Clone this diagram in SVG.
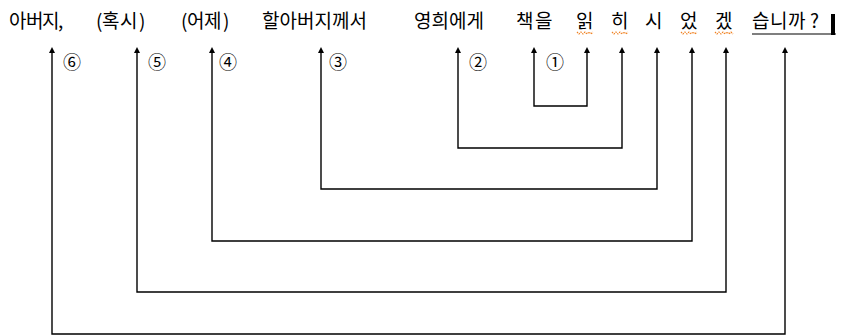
<svg xmlns="http://www.w3.org/2000/svg" width="845" height="336" viewBox="0 0 845 336">
<style>
.t{font-family:"Noto Sans CJK KR","Noto Sans",sans-serif;font-size:19px;fill:#000}
.n{font-family:"Noto Sans CJK KR","DejaVu Sans",sans-serif;font-size:18px;fill:#000;text-anchor:middle;dominant-baseline:central}
.c{fill:none;stroke:#000;stroke-width:1.4;marker-start:url(#ah);marker-end:url(#ah)}
.sq{fill:none;stroke:#f08020;stroke-width:1.2;stroke-dasharray:1.5 1}
</style>
<defs>
<marker id="ah" viewBox="0 0 8 8" refX="4" refY="4" markerWidth="6" markerHeight="6" orient="auto-start-reverse" markerUnits="userSpaceOnUse">
<path d="M0,0 L8,4 L0,8 Z" fill="#000"/>
</marker>
</defs>
<g id="sentence">
<text class="t" y="28" x="9 26 42 58">아버지,</text>
<text class="t" y="28" x="96 102 120 139">(혹시)</text>
<text class="t" y="28" x="181 187 204 223">(어제)</text>
<text class="t" y="28" x="262 279.5 297 314.5 332 349.5">할아버지께서</text>
<text class="t" y="28" x="414 431.5 449 466.5">영희에게</text>
<text class="t" y="28" x="516 535">책을</text>
<text class="t" y="28" x="576">읽</text>
<text class="t" y="28" x="611">히</text>
<text class="t" y="28" x="645">시</text>
<text class="t" y="28" x="680">었</text>
<text class="t" y="28" x="715">겠</text>
<text class="t" y="28" x="752 770 788 810">습니까?</text>
<line x1="752" y1="34" x2="836" y2="34" stroke="#000" stroke-width="1.2"/>
<rect x="831" y="14" width="4" height="21" fill="#000"/>
<path class="sq" d="M577,32 l2,2 l2,-2 l2,2 l2,-2 l2,2 l2,-2 l2,2 l2,-2"/>
<path class="sq" d="M612,32 l2,2 l2,-2 l2,2 l2,-2 l2,2 l2,-2 l2,2 l2,-2"/>
<path class="sq" d="M681,32 l2,2 l2,-2 l2,2 l2,-2 l2,2 l2,-2 l2,2 l2,-2"/>
<path class="sq" d="M715,32 l2,2 l2,-2 l2,2 l2,-2 l2,2 l2,-2 l2,2 l2,-2 l2,2"/>
</g>
<g id="labels">
<text class="n" x="72" y="61">⑥</text>
<text class="n" x="157" y="61">⑤</text>
<text class="n" x="228" y="61">④</text>
<text class="n" x="338" y="61">③</text>
<text class="n" x="478" y="61">②</text>
<text class="n" x="555" y="61">①</text>
</g>
<g id="connectors">
<path id="c1" class="c" d="M534,50 V106 H587 V50"/>
<path id="c2" class="c" d="M458,50 V148 H622 V50"/>
<path id="c3" class="c" d="M321,50 V189 H657 V50"/>
<path id="c4" class="c" d="M212,50 V241 H692 V50"/>
<path id="c5" class="c" d="M137,50 V292 H726 V50"/>
<path id="c6" class="c" d="M52,50 V334 H785 V50"/>
</g>
</svg>
